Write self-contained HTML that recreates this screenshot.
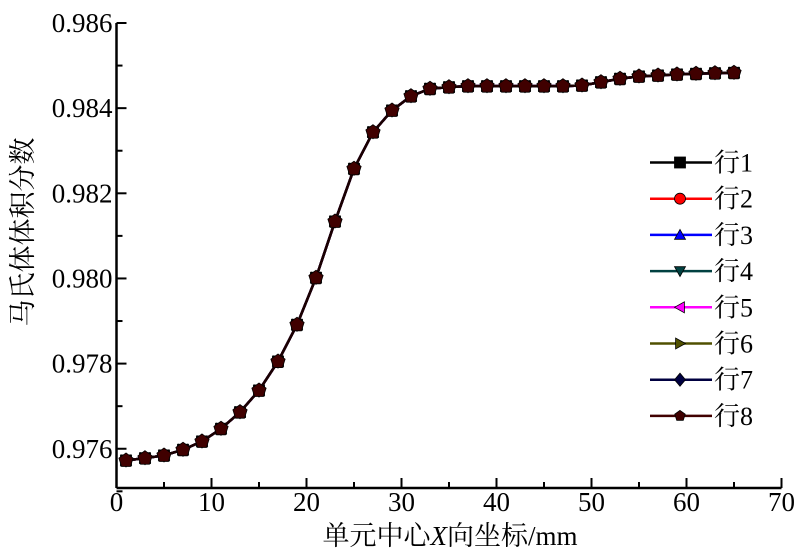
<!DOCTYPE html>
<html><head><meta charset="utf-8"><style>
html,body{margin:0;padding:0;background:#fff;}
svg{display:block;}
text{font-family:"Liberation Serif","Noto Serif CJK SC",serif;}
</style></head><body>
<svg id="chart" width="800" height="554" viewBox="0 0 800 554">
<g id="axes"></g>
<g id="series"></g>
<g id="legend"></g>
<text x="32" y="232" font-size="27" font-family="Liberation Serif, Noto Serif CJK SC, serif" text-anchor="middle" transform="rotate(-90 32 232)">马氏体体积分数</text>
<text x="450" y="545" font-size="27" font-family="Liberation Serif, Noto Serif CJK SC, serif" text-anchor="middle">单元中心<tspan font-style="italic">X</tspan>向坐标/mm</text>
</svg>
<script>
const xValues=[1,3,5,7,9,11,13,15,17,19,21,23,25,27,29,31,33,35,37,39,41,43,45,47,49,51,53,55,57,59,61,63,65];
const yValues=[0.975725,0.975779,0.975843,0.975977,0.976172,0.976470,0.976860,0.977369,0.978050,0.978913,0.980017,0.981339,0.982577,0.983436,0.983946,0.984282,0.984456,0.984493,0.984517,0.984517,0.984517,0.984517,0.984517,0.984517,0.984533,0.984611,0.984691,0.984745,0.984768,0.984792,0.984808,0.984822,0.984831];
const seriesNames=["行1","行2","行3","行4","行5","行6","行7","行8"];
const seriesColors=["#000000","#ff0000","#0000ff","#004040","#ff00ff","#505000","#000040","#400000"];
const seriesMarkers=["square","circle","up","down","left","right","diamond","pentagon"];
const xTicks=[0,10,20,30,40,50,60,70];
const yTicks=[0.976,0.978,0.980,0.982,0.984,0.986];
const NS="http://www.w3.org/2000/svg";
const FF="Liberation Serif, Noto Serif CJK SC, serif";
const X0=116.5,X1=781.5,XMIN=0,XMAX=70;
const YTOP=23,YBOT=488,YMAXV=0.986,YMINV=0.986-465/42575;
function sx(v){return X0+(v-XMIN)/(XMAX-XMIN)*(X1-X0);}
function sy(v){return YTOP+(YMAXV-v)/(YMAXV-YMINV)*(YBOT-YTOP);}
function mk(tag,attrs,parent){const e=document.createElementNS(NS,tag);for(const k in attrs)e.setAttribute(k,attrs[k]);parent.appendChild(e);return e;}
const axes=document.getElementById('axes');
let l=mk('line',{x1:X0,y1:YBOT,x2:X1,y2:YBOT,stroke:'#000','stroke-width':2.5},axes);


l=mk('line',{x1:X0,y1:YTOP,x2:X0,y2:YBOT,stroke:'#000','stroke-width':2.5},axes);


xTicks.forEach((t,i)=>{
  const x=sx(t);
  const tk=mk('line',{x1:x,y1:YBOT,x2:x,y2:YBOT-10,stroke:'#000','stroke-width':2},axes);
  
  
  if(i<xTicks.length-1){const m=sx(t+5);const mt=mk('line',{x1:m,y1:YBOT,x2:m,y2:YBOT-6,stroke:'#000','stroke-width':2},axes);
  
  }
  const tx=mk('text',{x:x,y:YBOT+23,'font-size':27,'font-family':FF,'text-anchor':'middle'},axes);
  tx.textContent=String(t);
  
  
});
yTicks.forEach((t,i)=>{
  const y=sy(t);
  const tk=mk('line',{x1:X0,y1:y,x2:X0+10,y2:y,stroke:'#000','stroke-width':2},axes);
  
  
  const m=sy(t-0.001);
  const mt=mk('line',{x1:X0,y1:m,x2:X0+6,y2:m,stroke:'#000','stroke-width':2},axes);
  
  
  const tx=mk('text',{x:X0-4,y:y+9,'font-size':27,'font-family':FF,'text-anchor':'end'},axes);
  tx.textContent=t.toFixed(3);
  
  
});
function marker(type,x,y,color,parent,r){
  let e;
  const st={fill:color,stroke:'#000','stroke-width':0.8};
  if(type==='square')e=mk('rect',Object.assign({x:x-r,y:y-r,width:2*r,height:2*r},st),parent);
  else if(type==='circle')e=mk('circle',Object.assign({cx:x,cy:y,r:r},st),parent);
  else{let p;
    if(type==='up')p=[[0,-r],[r,r*0.8],[-r,r*0.8]];
    else if(type==='down')p=[[0,r],[r,-r*0.8],[-r,-r*0.8]];
    else if(type==='left')p=[[-r,0],[r*0.8,-r],[r*0.8,r]];
    else if(type==='right')p=[[r,0],[-r*0.8,-r],[-r*0.8,r]];
    else if(type==='diamond')p=[[0,-r*1.2],[r,0],[0,r*1.2],[-r,0]];
    else {p=[];for(let k=0;k<5;k++){const a=-Math.PI/2+k*2*Math.PI/5;p.push([r*Math.cos(a),r*Math.sin(a)]);}}
    e=mk('polygon',Object.assign({points:p.map(q=>(x+q[0])+','+(y+q[1])).join(' ')},st),parent);}
  return e;
}
const sg=document.getElementById('series');
seriesNames.forEach((name,si)=>{
  const g=mk('g',{},sg);
  
  
  const pts=xValues.map((xv,i)=>sx(xv)+','+sy(yValues[i])).join(' ');
  const pl=mk('polyline',{points:pts,fill:'none',stroke:si===seriesNames.length-1?'#1a0000':seriesColors[si],'stroke-width':2.5},g);
  
  
  xValues.forEach((xv,i)=>{
    const m=marker(seriesMarkers[si],sx(xv),sy(yValues[i]),seriesColors[si],g,si===7?7.5:5.5);
    
    
  });
});
const lg=document.getElementById('legend');
seriesNames.forEach((name,si)=>{
  const y=162.5+si*36.2;
  const g=mk('g',{},lg);
  
  
  mk('line',{x1:650,y1:y,x2:712,y2:y,stroke:seriesColors[si],'stroke-width':2.5},g);
  marker(seriesMarkers[si],680,y,seriesColors[si],g,5.5);
  const t=mk('text',{x:714,y:y+9,'font-size':26,'font-family':FF},g);
  t.textContent=name;
});
</script>
</body></html>
